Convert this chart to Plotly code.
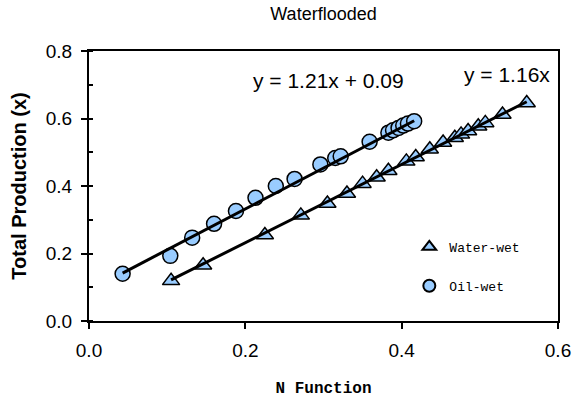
import plotly.graph_objects as go
import numpy as np

# Data
water_x = [0.105, 0.146, 0.225, 0.271, 0.305, 0.330, 0.350, 0.368, 0.383, 0.406,
           0.418, 0.436, 0.453, 0.468, 0.476, 0.485, 0.498, 0.507, 0.529, 0.560]
water_y = [0.119, 0.165, 0.255, 0.313, 0.348, 0.378, 0.407, 0.426, 0.445, 0.473,
           0.486, 0.509, 0.529, 0.543, 0.553, 0.563, 0.577, 0.587, 0.612, 0.646]

oil_x = [0.043, 0.104, 0.132, 0.160, 0.188, 0.213, 0.239, 0.263, 0.296, 0.315,
         0.322, 0.359, 0.383, 0.389, 0.396, 0.402, 0.408, 0.416]
oil_y = [0.140, 0.193, 0.247, 0.288, 0.326, 0.365, 0.400, 0.421, 0.464, 0.483,
         0.488, 0.531, 0.558, 0.565, 0.572, 0.579, 0.585, 0.592]

water_fit = (1.16, 0.0)   # slope, intercept
oil_fit = (1.21, 0.09)
water_label = "y = 1.16x"
oil_label = "y = 1.21x + 0.09"

marker_color = "#99CCFF"

fig = go.Figure()

fig.add_trace(go.Scatter(
    x=water_x, y=water_y, mode="markers", name="Water-wet", legendgroup="w",
    marker=dict(symbol="triangle-up", size=15, color=marker_color,
                line=dict(color="black", width=1.5))))
fig.add_trace(go.Scatter(
    x=oil_x, y=oil_y, mode="markers", name="Oil-wet", legendgroup="o",
    marker=dict(symbol="circle", size=15, color=marker_color,
                line=dict(color="black", width=1.5))))

for xs, (m, b) in ((water_x, water_fit), (oil_x, oil_fit)):
    lx = np.array([min(xs), max(xs)])
    fig.add_trace(go.Scatter(x=lx, y=m * lx + b, mode="lines", showlegend=False,
                             line=dict(color="black", width=3), hoverinfo="skip"))

fig.add_annotation(x=0.307, y=0.714, text=oil_label, showarrow=False,
                   font=dict(family="Liberation Sans, Arial", size=21, color="black"))
fig.add_annotation(x=0.535, y=0.729, text=water_label, showarrow=False,
                   font=dict(family="Liberation Sans, Arial", size=21, color="black"))

axis_common = dict(showline=True, linecolor="black", linewidth=2, mirror=True,
                   showgrid=False, zeroline=False, ticks="outside", ticklen=6,
                   tickcolor="black", tickwidth=1.5, tickformat=".1f",
                   ticklabelstandoff=5,
                   tickfont=dict(family="Liberation Sans, Arial", size=19, color="black"))

fig.update_xaxes(range=[0, 0.6], dtick=0.2, tick0=0, **axis_common,
                 title=dict(text="N Function", standoff=22,
                            font=dict(family="Liberation Mono, Courier New", size=16,
                                      color="black", weight="bold")))
fig.update_yaxes(range=[0, 0.8], dtick=0.2, tick0=0, **axis_common,
                 minor=dict(dtick=0.1, ticks="inside", ticklen=4, tickcolor="black"),
                 title=dict(text="Total Production (x)", standoff=14,
                            font=dict(family="Liberation Sans, Arial", size=20,
                                      color="black", weight="bold")))

fig.update_layout(
    width=585, height=406,
    margin=dict(l=89, r=27, t=51, b=82),
    paper_bgcolor="white", plot_bgcolor="white",
    title=dict(text="Waterflooded", x=0.5, xref="paper", xanchor="center",
               y=1 - 14 / 406, yref="container", yanchor="middle",
               font=dict(family="Liberation Sans, Arial", size=18, color="black")),
    legend=dict(x=0.683, y=0.33, xanchor="left", yanchor="top",
                bgcolor="rgba(0,0,0,0)", itemsizing="constant",
                traceorder="grouped", tracegroupgap=19,
                font=dict(family="Liberation Mono, Courier New", size=13, color="black")),
    showlegend=True,
)

fig.write_html("out.html")
